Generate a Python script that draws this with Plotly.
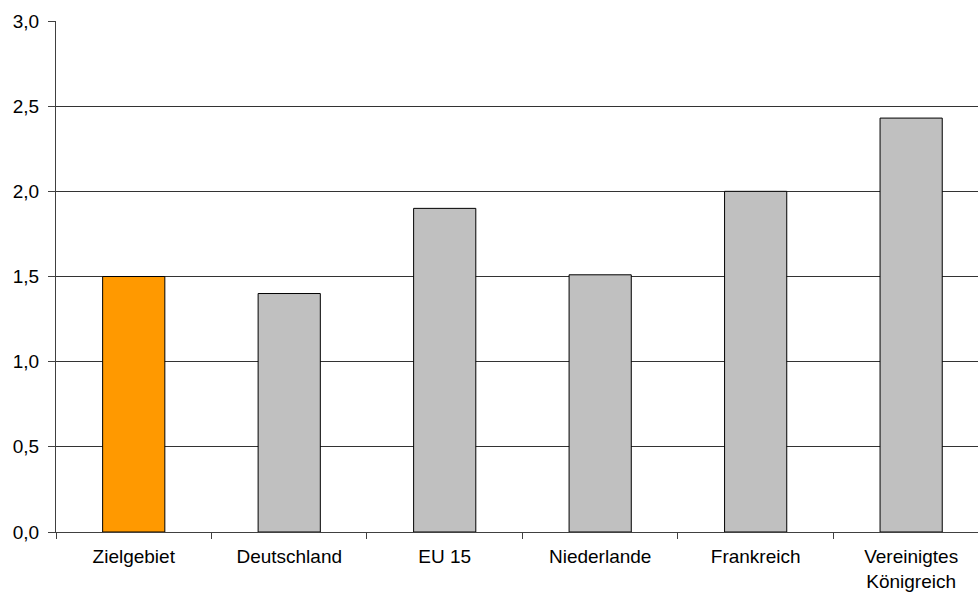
import plotly.graph_objects as go

# Kategorien und Werte
categories = ["Zielgebiet", "Deutschland", "EU 15", "Niederlande", "Frankreich",
              "Vereinigtes<br>Königreich"]
values = [1.5, 1.4, 1.9, 1.51, 2.0, 2.43]
bar_colors = ["#FF9900", "#C0C0C0", "#C0C0C0", "#C0C0C0", "#C0C0C0", "#C0C0C0"]
y_ticks = [0.0, 0.5, 1.0, 1.5, 2.0, 2.5, 3.0]

fig = go.Figure(
    go.Bar(
        x=categories,
        y=values,
        marker=dict(color=bar_colors, line=dict(color="#000000", width=1)),
        width=0.4,
    )
)

font = dict(family="Liberation Sans, Arial, sans-serif", size=19, color="#000000")

fig.update_layout(
    width=978,
    height=594,
    margin=dict(l=56, r=0, t=21, b=62),
    paper_bgcolor="white",
    plot_bgcolor="white",
    separators=",.",
    showlegend=False,
    font=font,
    xaxis=dict(
        type="category",
        range=[-0.5, 5.43],
        tickson="boundaries",
        ticks="outside",
        ticklen=6,
        tickcolor="#404040",
        showline=True,
        linecolor="#404040",
        linewidth=1,
        showgrid=False,
        tickfont=font,
        ticklabelstandoff=7,
        automargin=False,
    ),
    yaxis=dict(
        range=[0, 3],
        tickvals=y_ticks,
        tickformat=".1f",
        ticks="outside",
        ticklen=7,
        tickcolor="#404040",
        showline=True,
        linecolor="#404040",
        linewidth=1,
        showgrid=True,
        gridcolor="#333333",
        gridwidth=1,
        zeroline=False,
        tickfont=font,
        ticklabelstandoff=5,
        automargin=False,
    ),
)

fig.write_html("out.html")
